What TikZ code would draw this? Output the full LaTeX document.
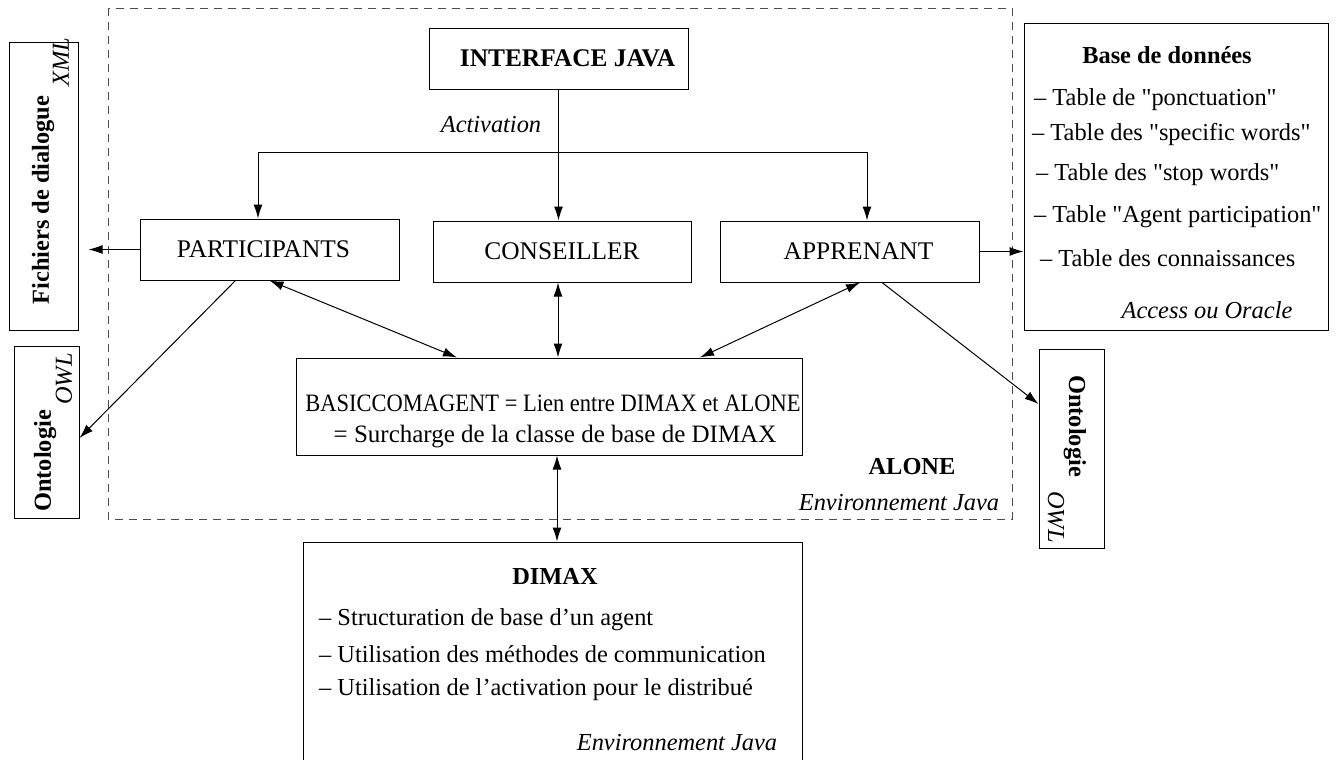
\documentclass[tikz,border=0pt]{standalone}
\usepackage{fontspec}
\setmainfont{Liberation Serif}[Ligatures=TeXOff]
\usetikzlibrary{arrows.meta,calc}

\begin{document}
\begin{tikzpicture}[x=0.5pt,y=-0.5pt,
  font=\fontsize{12.2pt}{14pt}\selectfont,
  line width=0.5pt,
  >={Latex[length=7pt,width=4.5pt]},
  box/.style={draw,inner sep=0pt},
  sz/.style 2 args={minimum width=#1,minimum height=#2},
  big/.style={font=\fontsize{12.7pt}{14pt}\selectfont},
  bigbf/.style={font=\fontsize{12.7pt}{14pt}\selectfont\bfseries},
  bf/.style={font=\fontsize{12.2pt}{14pt}\selectfont\bfseries},
  it/.style={font=\fontsize{12.2pt}{14pt}\selectfont\itshape}
]
\useasboundingbox (0,0) rectangle (1340,760);

% ALONE frame
\draw[black!70,dashed,dash pattern=on 4pt off 3pt] (108,8) rectangle (1012,519);
\node[bf] (alone) at (912,467) {ALONE};
\node[it] (aloneenv) at (899,503) {Environnement Java};

% agents
\node[box,sz={129.5pt}{30.5pt},bigbf] (interface) at (558.5,58.5) {\hspace{9pt}INTERFACE JAVA};
\node[box,sz={129.5pt}{30.5pt},big] (participants) at (269.5,249.5) {\hspace{-6pt}PARTICIPANTS};
\node[box,sz={129pt}{30.5pt},big] (conseiller) at (562,251.5) {CONSEILLER};
\node[box,sz={129.5pt}{30.5pt},big] (apprenant) at (849.5,251.5) {\hspace{9pt}APPRENANT};

\node[box,sz={253pt}{48.5pt}] (basic) at (549,406.5) {};
\node[font=\fontsize{12.5pt}{14pt}\selectfont,xscale=0.9] (basicA) at (553,403) {BASICCOMAGENT = Lien entre DIMAX et ALONE};
\node[font=\fontsize{12.5pt}{14pt}\selectfont] (basicB) at (555,437) {= Surcharge de la classe de base de DIMAX};

% outside
\node[box,sz={34.5pt}{144pt}] (fichiers) at (43.5,186) {};
\node[bf,rotate=90] at (43,200) {Fichiers de dialogue};
\node[it,rotate=90] at (61,62) {XML};

\node[box,sz={32.5pt}{86pt}] (ontoL) at (46.5,432) {};
\node[bf,rotate=90] at (45,461) {Ontologie};
\node[it,rotate=90] at (64,379) {OWL};

\node[box,sz={32.5pt}{99.5pt}] (ontoR) at (1071.5,448.5) {};
\node[bf,rotate=-90] at (1075,426) {Ontologie};
\node[it,rotate=-90] at (1056,517) {OWL};

\node[box,sz={152pt}{153.5pt}] (base) at (1176,176.5) {};
\node[bf] at (1167,55) {Base de données};
\node[anchor=west] at (1027,100) {– Table de "ponctuation"};
\node[anchor=west] at (1025,135) {– Table des "specific words"};
\node[anchor=west] at (1029,175) {– Table des "stop words"};
\node[anchor=west] at (1027,217) {– Table "Agent participation"};
\node[anchor=west] at (1033,258) {– Table des connaissances};
\node[it] at (1207,310) {Access ou Oracle};

\node[box,sz={249.5pt}{114pt}] (dimax) at (552.5,656) {};
\node[bf] at (555,576) {DIMAX};
\node[anchor=west] at (312,620) {– Structuration de base d’un agent};
\node[anchor=west] at (312,654) {– Utilisation des méthodes de communication};
\node[anchor=west] at (312,690) {– Utilisation de l’activation pour le distribué};
\node[it] at (677,743) {Environnement Java};

% activation
\coordinate (busL) at (258,152);
\coordinate (busR) at (867,152);
\node[it] at (491,125) {Activation};
\draw[->] (interface.south) -- (interface.south |- conseiller.north);
\draw (busL) -- (busR);
\draw[->] (busL) -- (busL |- participants.north);
\draw[->] (busR) -- (busR |- apprenant.north);

% links
\draw[->] (participants.west) -- ([xshift=5pt]fichiers.east |- participants.west);
\draw[->] ([xshift=-17pt]participants.south) -- ([yshift=-3pt]ontoL.east);
\draw[->] (apprenant.east) -- (base.west |- apprenant.east);
\draw[->] ([xshift=16.25pt]apprenant.south) -- ([yshift=22.25pt]ontoR.west);

\draw[<->] (participants.south) -- ([xshift=-46pt]basic.north);
\draw[<->] ([xshift=-2pt]conseiller.south) -- ([xshift=-2pt]conseiller.south |- basic.north);
\draw[<->] ([xshift=5.25pt]apprenant.south) -- ([xshift=75.5pt]basic.north);
\draw[<->] ([xshift=4pt]basic.south) -- ([xshift=4pt]basic.south |- dimax.north);
\end{tikzpicture}
\end{document}
